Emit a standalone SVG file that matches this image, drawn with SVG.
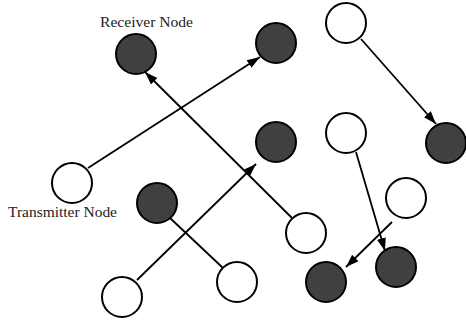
<svg xmlns="http://www.w3.org/2000/svg" width="466" height="320" viewBox="0 0 466 320">
<style>
.w{fill:#fff;stroke:#000;stroke-width:2}
.d{fill:#404040;stroke:#000;stroke-width:2}
.c{stroke:#000;stroke-width:1.8;fill:none}
.t{font-family:"Liberation Serif",serif;font-size:15px;fill:#222}
</style>
<defs>
<marker id="ah" viewBox="0 0 10 10" refX="10" refY="5" markerWidth="13" markerHeight="13" markerUnits="userSpaceOnUse" orient="auto">
<path d="M0,1.5 L10,5 L0,8.5 z" fill="#000"/>
</marker>
</defs>
<g id="connectors">
<line class="c" x1="88" y1="168" x2="260" y2="57" marker-end="url(#ah)"/>
<line class="c" x1="292" y1="218" x2="145" y2="72" marker-end="url(#ah)"/>
<line class="c" x1="361" y1="39" x2="436" y2="124" marker-end="url(#ah)"/>
<line class="c" x1="170" y1="218" x2="223" y2="268"/>
<line class="c" x1="137" y1="280" x2="256" y2="164" marker-end="url(#ah)"/>
<line class="c" x1="356" y1="152" x2="385" y2="251" marker-end="url(#ah)"/>
<line class="c" x1="392" y1="222" x2="346" y2="267" marker-end="url(#ah)"/>
</g>
<g id="receiver"><circle class="d" cx="136" cy="54" r="20"/><text class="t" x="100" y="27" textLength="93" lengthAdjust="spacingAndGlyphs">Receiver Node</text></g>
<g id="n2"><circle class="d" cx="276" cy="43" r="20"/></g>
<g id="n3"><circle class="w" cx="346" cy="23" r="20"/></g>
<g id="n4"><circle class="d" cx="446" cy="143" r="20"/></g>
<g id="n5"><circle class="d" cx="276" cy="142" r="20"/></g>
<g id="n6"><circle class="w" cx="346" cy="133" r="20"/></g>
<g id="transmitter"><circle class="w" cx="72" cy="183" r="20"/><text class="t" x="8" y="217" textLength="109" lengthAdjust="spacingAndGlyphs">Transmitter Node</text></g>
<g id="n8"><circle class="d" cx="157" cy="203" r="20"/></g>
<g id="n9"><circle class="w" cx="122" cy="297" r="20"/></g>
<g id="n10"><circle class="w" cx="237" cy="282" r="20"/></g>
<g id="n11"><circle class="w" cx="306" cy="233" r="20"/></g>
<g id="n12"><circle class="d" cx="326" cy="282" r="20"/></g>
<g id="n13"><circle class="w" cx="406" cy="198" r="20"/></g>
<g id="n14"><circle class="d" cx="396" cy="267" r="20"/></g>
</svg>
